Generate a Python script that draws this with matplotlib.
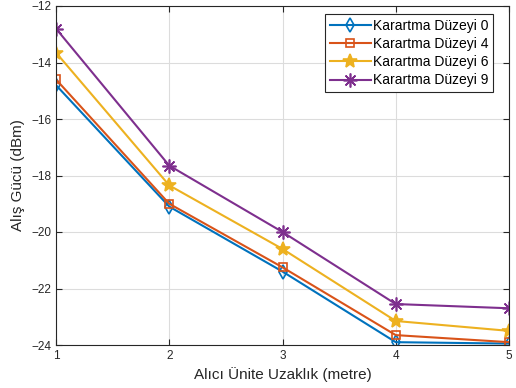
import numpy as np
import matplotlib.pyplot as plt

plt.rcParams['font.family'] = ['Liberation Sans', 'DejaVu Sans']
plt.rcParams['font.size'] = 8

distance = [1, 2, 3, 4, 5]
level_0 = [-14.8, -19.1, -21.4, -23.9, -23.95]
level_4 = [-14.6, -19.0, -21.25, -23.65, -23.9]
level_6 = [-13.65, -18.35, -20.6, -23.15, -23.5]
level_9 = [-12.8, -17.65, -20.0, -22.55, -22.7]

series = [
    (level_0, 'Karartma Düzeyi 0', '#0072BD', 'd', 7),
    (level_4, 'Karartma Düzeyi 4', '#D95319', 's', 6),
    (level_6, 'Karartma Düzeyi 6', '#EDB120', '*', 10),
    (level_9, 'Karartma Düzeyi 9', '#7E2F8E', (8, 2, 0), 10),
]

fig = plt.figure(figsize=(5.16, 3.88), dpi=100)
ax = fig.add_axes([56/516, 1 - 345/388, (509-56)/516, (345-6)/388])

for vals, lab, col, mk, ms in series:
    ax.plot(distance, vals, color=col, marker=mk, markersize=ms, linewidth=1.5,
            markerfacecolor='none' if mk in ('d', 's') else col,
            markeredgewidth=1.2, label=lab)

ax.set_xlim(1, 5)
ax.set_ylim(-24, -12)
ax.set_xticks([1, 2, 3, 4, 5])
ax.set_yticks([-24, -22, -20, -18, -16, -14, -12])
ax.tick_params(direction='in', top=True, right=True, length=4, colors='#262626', labelsize=8.5)
ax.grid(True, color='#dcdcdc', linewidth=0.8)
ax.set_axisbelow(True)
for s in ax.spines.values():
    s.set_color('#262626')
    s.set_linewidth(0.8)

ax.set_xlabel('Alıcı Ünite Uzaklık (metre)', fontsize=11, color='#262626')
ax.set_ylabel('Alış Gücü (dBm)', fontsize=11, color='#262626')

leg = ax.legend(loc='upper right', fontsize=10, fancybox=False, framealpha=1,
                edgecolor='#262626', borderpad=0.35, labelspacing=0.3,
                handlelength=3.0, handletextpad=0.1, borderaxespad=0,
                bbox_to_anchor=((493-56)/453, (345-14)/339))
leg.get_frame().set_linewidth(0.8)

fig.savefig('out.png', dpi=100)
